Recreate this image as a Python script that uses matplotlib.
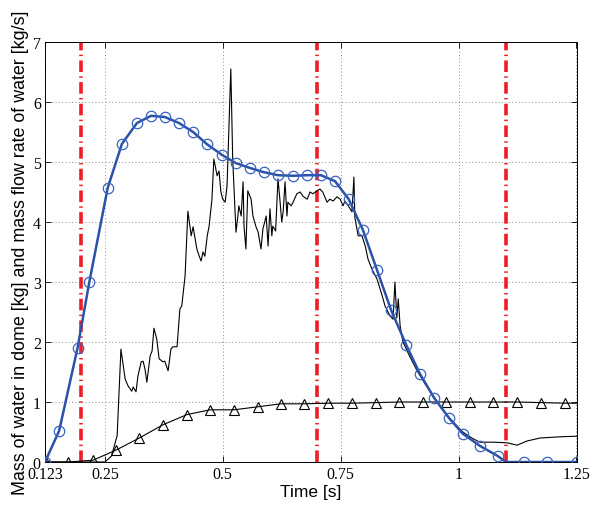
import numpy as np
import matplotlib
matplotlib.use('Agg')
import matplotlib.pyplot as plt

# blue curve with circles: mass of water in dome [kg]
t_dome = [0.123, 0.153, 0.192, 0.217, 0.256, 0.286, 0.318, 0.348, 0.377, 0.407,
          0.437, 0.466, 0.498, 0.528, 0.558, 0.587, 0.617, 0.649, 0.679, 0.708,
          0.738, 0.767, 0.797, 0.827, 0.857, 0.889, 0.918, 0.948, 0.980, 1.009,
          1.045, 1.083, 1.100, 1.138, 1.187, 1.251]
m_dome = [0.0, 0.52, 1.9, 3.0, 4.57, 5.3, 5.65, 5.77, 5.75, 5.65,
          5.5, 5.3, 5.12, 4.98, 4.9, 4.83, 4.78, 4.77, 4.78, 4.78,
          4.68, 4.38, 3.87, 3.2, 2.53, 1.95, 1.47, 1.07, 0.73, 0.47,
          0.27, 0.1, 0.0, 0.0, 0.0, 0.0]
circ_idx = [i for i in range(len(t_dome)) if t_dome[i] != 1.100]

# black curve with triangles
t_tri = [0.125, 0.172, 0.225, 0.274, 0.323, 0.373, 0.424, 0.473, 0.524, 0.574,
         0.623, 0.672, 0.723, 0.774, 0.825, 0.874, 0.925, 0.973, 1.024, 1.073,
         1.124, 1.175, 1.226, 1.25]
m_tri = [0.0, 0.0, 0.03, 0.2, 0.4, 0.62, 0.79, 0.87, 0.87, 0.92,
         0.97, 0.97, 0.98, 0.98, 0.99, 1.0, 1.0, 1.0, 1.0, 1.0,
         1.0, 0.99, 0.98, 0.98]
tri_idx = list(range(len(t_tri) - 1))

# noisy black line: mass flow rate of water [kg/s]
t_flow = [0.123, 0.250, 0.264, 0.276, 0.284, 0.293, 0.299, 0.307, 0.310, 0.316,
          0.320, 0.327, 0.331, 0.335, 0.339, 0.346, 0.350, 0.354, 0.360, 0.365,
          0.373, 0.377, 0.384, 0.390, 0.394, 0.403, 0.409, 0.413, 0.420, 0.426,
          0.433, 0.437, 0.445, 0.450, 0.454, 0.458, 0.462, 0.467, 0.471, 0.477,
          0.481, 0.488, 0.492, 0.496, 0.500, 0.505, 0.509, 0.517, 0.521, 0.528,
          0.532, 0.534, 0.539, 0.543, 0.545, 0.549, 0.553, 0.560, 0.564, 0.570,
          0.575, 0.581, 0.585, 0.592, 0.596, 0.600, 0.604, 0.606, 0.612, 0.617,
          0.621, 0.625, 0.628, 0.632, 0.636, 0.638, 0.645, 0.649, 0.657, 0.664,
          0.670, 0.679, 0.685, 0.691, 0.700, 0.706, 0.712, 0.721, 0.727, 0.734,
          0.742, 0.749, 0.755, 0.759, 0.766, 0.774, 0.778, 0.780, 0.787, 0.795,
          0.802, 0.808, 0.816, 0.827, 0.838, 0.844, 0.855, 0.861, 0.865, 0.869,
          0.872, 0.876, 0.882, 0.897, 0.912, 0.929, 0.946, 0.963, 0.982, 1.009,
          1.028, 1.045, 1.073, 1.103, 1.124, 1.145, 1.173, 1.215, 1.251]
m_flow = [0.0, 0.0, 0.1, 0.44, 1.88, 1.38, 1.27, 1.18, 1.25, 1.17,
          1.43, 1.67, 1.68, 1.55, 1.33, 1.77, 1.85, 2.23, 2.05, 1.72,
          1.67, 1.68, 1.52, 1.88, 1.92, 1.92, 2.55, 2.6, 3.1, 4.18,
          3.77, 3.92, 3.55, 3.43, 3.35, 3.5, 3.43, 3.77, 3.93, 4.38,
          5.05, 4.77, 4.85, 4.5, 4.38, 4.33, 4.6, 6.55, 5.05, 3.83,
          4.1, 4.27, 4.1, 4.67, 3.93, 3.55, 4.52, 4.38, 4.1, 3.93,
          3.83, 3.55, 3.88, 4.1, 3.6, 4.22, 3.77, 3.93, 3.85, 4.72,
          4.38, 4.0, 4.17, 4.67, 4.1, 4.33, 4.27, 4.33, 4.47, 4.5,
          4.43, 4.38, 4.5, 4.47, 4.52, 4.55, 4.5, 4.33, 4.38, 4.35,
          4.42, 4.38, 4.27, 4.35, 4.27, 4.17, 4.75, 4.08, 3.77, 3.77,
          3.6, 3.38, 3.22, 3.05, 2.77, 2.6, 2.43, 2.38, 3.0, 2.4,
          2.72, 2.27, 2.0, 1.75, 1.52, 1.3, 1.1, 0.9, 0.72, 0.5,
          0.4, 0.33, 0.33, 0.32, 0.28, 0.35, 0.4, 0.42, 0.43]

t_marks = [0.2, 0.7, 1.1]
xticks = [0.123, 0.25, 0.5, 0.75, 1.0, 1.25]
xtick_labels = ['0.123', '0.25', '0.5', '0.75', '1', '1.25']
yticks = [0, 1, 2, 3, 4, 5, 6, 7]

fig = plt.figure(figsize=(5.9, 5.06), dpi=100)
ax = fig.add_axes([45/590, 1-463/506, 531.5/590, 420/506])

for tm in t_marks:
    ax.axvline(tm, color='#ee1c25', lw=2.6, ls=(0, (3.2, 1.2, 0.4, 1.2)), zorder=2)

ax.plot(t_flow, m_flow, color='black', lw=0.8, zorder=3)
ax.plot(t_tri, m_tri, color='black', lw=0.8, marker='^', markevery=tri_idx,
        markersize=7, markerfacecolor='none', markeredgewidth=0.8, zorder=4)
ax.plot(t_dome, m_dome, color='#2a52a8', lw=1.8, marker='o', markevery=circ_idx,
        markersize=7.5, markerfacecolor='none', markeredgecolor='#3a62c0',
        markeredgewidth=0.9, zorder=5)

ax.set_xlim(0.123, 1.25)
ax.set_ylim(0, 7)
ax.set_xticks(xticks)
ax.set_xticklabels(xtick_labels)
ax.set_yticks(yticks)
ax.tick_params(direction='in', top=True, right=True, length=4, width=0.6, pad=3)
for lab in ax.get_xticklabels() + ax.get_yticklabels():
    lab.set_family('Liberation Serif')
    lab.set_fontsize(11.5)
ax.grid(True, color='#666666', ls=(0, (1, 3)), lw=0.6)
for s in ax.spines.values():
    s.set_linewidth(0.7)

ax.set_xlabel('Time [s]', family='Liberation Sans', fontsize=12.5, labelpad=1)
ax.set_ylabel('Mass of water in dome [kg] and mass flow rate of water [kg/s]',
              family='Liberation Sans', fontsize=12.9, labelpad=3)

fig.savefig('out.png', dpi=100)
